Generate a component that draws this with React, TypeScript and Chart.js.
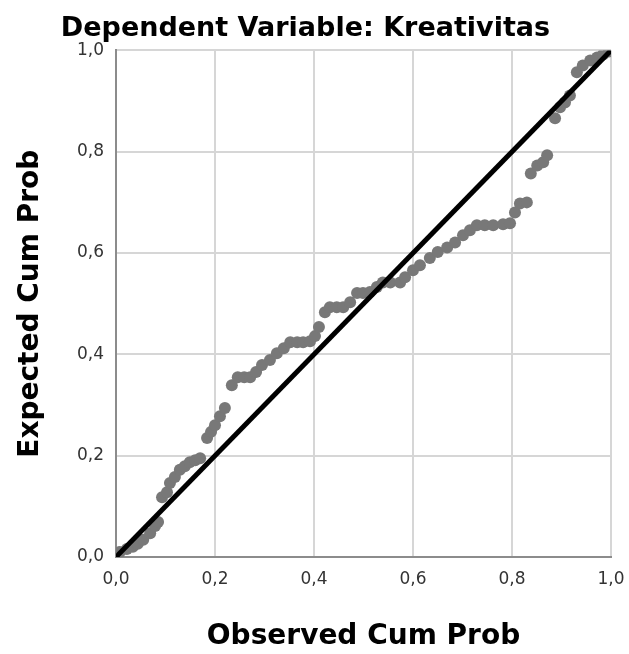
import React, { useEffect, useRef } from "react";
import { Chart, registerables } from "chart.js";

Chart.register(...registerables);

const chartTitle = "Dependent Variable: Kreativitas";
const xAxisTitle = "Observed Cum Prob";
const yAxisTitle = "Expected Cum Prob";
const axisTicks = [0, 0.2, 0.4, 0.6, 0.8, 1.0];
const refLine = [0, 1];

const observedCumProb = [
  0.008, 0.022, 0.034, 0.044, 0.055, 0.069, 0.079, 0.085, 0.093, 0.103,
  0.109, 0.119, 0.129, 0.139, 0.149, 0.16, 0.17, 0.184, 0.192, 0.2,
  0.21, 0.22, 0.234, 0.246, 0.259, 0.271, 0.283, 0.295, 0.311, 0.325,
  0.339, 0.352, 0.366, 0.378, 0.392, 0.402, 0.41, 0.422, 0.432, 0.446,
  0.459, 0.473, 0.487, 0.499, 0.513, 0.527, 0.539, 0.554, 0.574, 0.584,
  0.6, 0.614, 0.634, 0.65, 0.669, 0.685, 0.701, 0.715, 0.729, 0.745,
  0.762, 0.782, 0.796, 0.806, 0.816, 0.83, 0.838, 0.851, 0.863, 0.871,
  0.887, 0.897, 0.907, 0.917, 0.931, 0.943, 0.958, 0.972, 0.984, 0.996,
];

const expectedCumProb = [
  0.01, 0.016, 0.02, 0.026, 0.034, 0.047, 0.061, 0.069, 0.118, 0.128,
  0.146, 0.158, 0.172, 0.179, 0.187, 0.191, 0.195, 0.235, 0.247, 0.26,
  0.278, 0.294, 0.339, 0.355, 0.355, 0.355, 0.365, 0.379, 0.389, 0.402,
  0.412, 0.424, 0.424, 0.424, 0.426, 0.436, 0.454, 0.483, 0.493, 0.493,
  0.493, 0.503, 0.521, 0.521, 0.523, 0.533, 0.542, 0.542, 0.542, 0.552,
  0.566, 0.576, 0.59, 0.602, 0.611, 0.621, 0.635, 0.645, 0.655, 0.655,
  0.655, 0.657, 0.659, 0.68, 0.698, 0.7, 0.757, 0.773, 0.779, 0.793,
  0.866, 0.888, 0.897, 0.911, 0.957, 0.97, 0.98, 0.986, 0.992, 0.998,
];

const tickFont = { family: "DejaVu Sans", size: 17 };
const titleFont = { family: "DejaVu Sans", size: 28, weight: "bold" as const };
const fmt = (v: any) => Number(v).toFixed(1).replace(".", ",");

export default function App() {
  const ref = useRef<HTMLCanvasElement>(null);
  useEffect(() => {
    document.body.style.margin = "0";
    const points = observedCumProb.map((x, i) => ({ x, y: expectedCumProb[i] }));
    const chart = new Chart(ref.current!, {
      type: "scatter",
      data: {
        datasets: [
          {
            type: "line",
            data: refLine.map((v) => ({ x: v, y: v })),
            borderColor: "#000000",
            borderWidth: 5,
            pointRadius: 0,
            showLine: true,
            order: 0,
          } as any,
          {
            data: points,
            backgroundColor: "#787878",
            borderWidth: 0,
            pointRadius: 6,
            order: 1,
          },
        ],
      },
      options: {
        animation: false,
        responsive: false,
        devicePixelRatio: 1,
        layout: { padding: { left: 0, right: 18, top: 0, bottom: 0 } },
        plugins: {
          legend: { display: false },
          tooltip: { enabled: false },
          title: {
            display: true,
            text: chartTitle,
            color: "#000000",
            font: { family: "DejaVu Sans", size: 27, weight: "bold" },
            padding: { top: 13, bottom: 5 },
          },
        },
        scales: {
          x: {
            type: "linear",
            min: 0,
            max: 1,
            afterBuildTicks: (s: any) => {
              s.ticks = axisTicks.map((v) => ({ value: v }));
            },
            afterFit: (s: any) => {
              s.height = 97;
              s.paddingRight = 0;
              s.paddingLeft = 0;
            },
            ticks: { callback: fmt, font: tickFont, color: "#333333", padding: 12, maxRotation: 0 },
            grid: { color: "#d6d6d6", lineWidth: 2, drawTicks: false },
            border: { color: "#8c8c8c", width: 2 },
            title: {
              display: true,
              text: xAxisTitle,
              color: "#000000",
              font: titleFont,
              padding: { top: 0, bottom: 0 },
            },
          },
          y: {
            type: "linear",
            min: 0,
            max: 1,
            afterBuildTicks: (s: any) => {
              s.ticks = axisTicks.map((v) => ({ value: v }));
            },
            afterFit: (s: any) => {
              s.width = 116;
              s.paddingTop = 0;
              s.paddingBottom = 0;
            },
            ticks: { callback: fmt, font: tickFont, color: "#333333", padding: 12 },
            grid: { color: "#d6d6d6", lineWidth: 2, drawTicks: false },
            border: { color: "#8c8c8c", width: 2 },
            title: {
              display: true,
              text: yAxisTitle,
              color: "#000000",
              font: titleFont,
              padding: { top: 14, bottom: 0 },
            },
          },
        },
      },
    });
    return () => chart.destroy();
  }, []);
  return <canvas ref={ref} width={629} height={654} style={{ display: "block" }} />;
}
